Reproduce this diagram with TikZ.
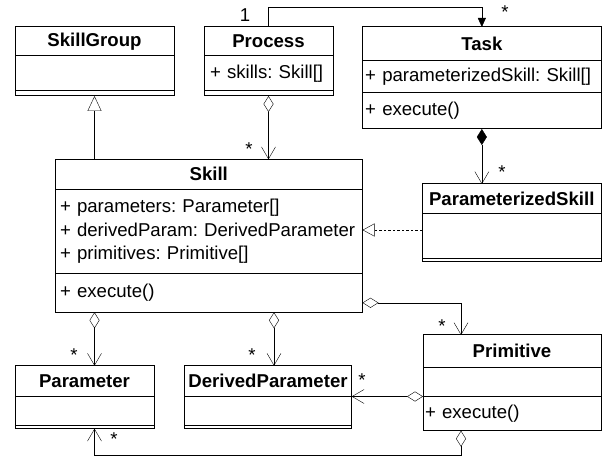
\documentclass[tikz,border=0pt]{standalone}
\usepackage[svgnames]{xcolor}
\usepackage{fontspec}
\setmainfont{Liberation Sans}
\frenchspacing
\hyphenpenalty=10000
\usetikzlibrary{arrows.meta}
\pgfdeclarelayer{lineas_layer}
\pgfsetlayers{lineas_layer,main}
\tikzstyle{cabecera}=[draw=Black,anchor=north west,inner sep=0pt,outer sep=0pt,font=\fontsize{18.6}{23.5}\bfseries\selectfont]
\tikzstyle{seccion}=[draw=Black,anchor=north west,inner sep=0pt,outer sep=0pt,align=left,font=\fontsize{18.6}{23.5}\selectfont]
\tikzstyle{mult}=[inner sep=0pt,font=\fontsize{18.6}{23.5}\selectfont]
\tikzstyle{asociacion}=[draw=Black,-{Triangle[length=9pt,width=8pt]}]
\tikzstyle{agregacion}=[draw=Black,{Diamond[open,length=16pt,width=10pt]}-{Straight Barb[length=12pt,width=14pt]}]
\tikzstyle{composicion}=[draw=Black,{Diamond[length=16pt,width=10pt]}-{Straight Barb[length=12pt,width=14pt]}]
\tikzstyle{herencia}=[draw=Black,-{Triangle[open,length=15pt,width=14pt]}]
\tikzstyle{realiza}=[draw=Black,dash pattern=on 2.5pt off 2pt,-{Triangle[open,length=12pt,width=13pt]}]

\begin{document}
\begin{tikzpicture}[x=1pt,y=-1pt,line width=1pt]
	\useasboundingbox (0,0) rectangle (603,457);
	% clases
	\node [style=cabecera,minimum width=159pt,minimum height=29pt] (skillgroup) at (15,27) {SkillGroup};
	\node [style=seccion,minimum width=159pt,minimum height=34.7pt] (skillgroup_attr) at (skillgroup.south west) {};
	\node [style=seccion,minimum width=159pt,minimum height=5.3pt] (skillgroup_ops) at (skillgroup_attr.south west) {};

	\node [style=cabecera,minimum width=129pt,minimum height=29pt] (process) at (204,27) {Process};
	\node [style=seccion,text width=117pt,inner xsep=6pt,minimum height=34.7pt] (process_attr) at (process.south west) {+ skills: Skill[]};
	\node [style=seccion,minimum width=129pt,minimum height=5.3pt] (process_ops) at (process_attr.south west) {};

	\node [style=cabecera,minimum width=238.3pt,minimum height=34pt] (task) at (362.7,27) {Task};
	\node [style=seccion,text width=233.3pt,inner xsep=2.5pt,minimum height=32pt] (task_attr) at (task.south west) {+ parameterizedSkill: Skill[]};
	\node [style=seccion,text width=233.3pt,inner xsep=2.5pt,minimum height=36pt] (task_ops) at (task_attr.south west) {+ execute()};

	\node [style=cabecera,minimum width=307.5pt,minimum height=30pt] (skill) at (55,159.3) {Skill};
	\node [style=seccion,text width=297.5pt,inner xsep=5pt,minimum height=84pt] (skill_attr) at (skill.south west) {+ parameters: Parameter[]\\+ derivedParam: DerivedParameter\\+ primitives: Primitive[]};
	\node [style=seccion,text width=297.5pt,inner xsep=5pt,minimum height=39pt] (skill_ops) at (skill_attr.south west) {+ execute()};

	\node [style=cabecera,minimum width=179.5pt,minimum height=29.3pt] (pskill) at (422,184) {ParameterizedSkill};
	\node [style=seccion,minimum width=179.5pt,minimum height=45pt] (pskill_attr) at (pskill.south west) {};
	\node [style=seccion,minimum width=179.5pt,minimum height=3.4pt] (pskill_ops) at (pskill_attr.south west) {};

	\node [style=cabecera,minimum width=178pt,minimum height=32.3pt] (primitive) at (423,335) {Primitive};
	\node [style=seccion,minimum width=178pt,minimum height=29.2pt] (primitive_attr) at (primitive.south west) {};
	\node [style=seccion,text width=174pt,inner xsep=2pt,minimum height=34.2pt] (primitive_ops) at (primitive_attr.south west) {+ execute()};

	\node [style=cabecera,minimum width=139pt,minimum height=30.3pt] (parameter) at (15,365.7) {Parameter};
	\node [style=seccion,minimum width=139pt,minimum height=29.3pt] (parameter_attr) at (parameter.south west) {};
	\node [style=seccion,minimum width=139pt,minimum height=3.4pt] (parameter_ops) at (parameter_attr.south west) {};

	\node [style=cabecera,minimum width=167.4pt,minimum height=30.3pt] (derivedparam) at (184.3,365.7) {DerivedParameter};
	\node [style=seccion,minimum width=167.4pt,minimum height=29.3pt] (derivedparam_attr) at (derivedparam.south west) {};
	\node [style=seccion,minimum width=167.4pt,minimum height=3.4pt] (derivedparam_ops) at (derivedparam_attr.south west) {};

	% multiplicidades
	\node [style=mult] (m_process_task1) at (245,15) {1};
	\node [style=mult] (m_process_task2) at (505,12) {*};
	\node [style=mult] (m_process_skill) at (249,149) {*};
	\node [style=mult] (m_task_pskill) at (502,172) {*};
	\node [style=mult] (m_skill_primitive) at (442,326) {*};
	\node [style=mult] (m_skill_parameter) at (74,355) {*};
	\node [style=mult] (m_skill_derived) at (252,355) {*};
	\node [style=mult] (m_primitive_derived) at (362,380) {*};
	\node [style=mult] (m_primitive_parameter) at (114,439) {*};

	\coordinate (pskill_real) at ([yshift=5.8pt]pskill_attr.west);
	\coordinate (skill_agg) at ([yshift=-10pt]skill_ops.east);
	\coordinate (prim_top) at ([xshift=-51pt]primitive.north);
	\coordinate (prim_bot) at ([xshift=-51pt]primitive_ops.south);
	\coordinate (dp_top) at ([xshift=6pt]derivedparam.north);

	\begin{pgfonlayer}{lineas_layer}
		\path [style=asociacion] (process.north) -- ++(0,-20) -| (task.north);
		\path [style=agregacion] (process_ops.south) -- (process_ops.south |- skill.north);
		\path [style=herencia] (skillgroup.south |- skill.north) -- (skillgroup_ops.south);
		\path [style=composicion] (task_ops.south) -- (task_ops.south |- pskill.north);
		\path [style=realiza] (pskill_real) -- (pskill_real -| skill_attr.east);
		\path [style=agregacion] (skill_agg) -| (prim_top);
		\path [style=agregacion] (skillgroup.south |- skill_ops.south) -- (skillgroup.south |- parameter.north);
		\path [style=agregacion] (dp_top |- skill_ops.south) -- (dp_top);
		\path [style=agregacion] (primitive_ops.north west) -- (primitive_ops.north west -| derivedparam.east);
		\path [style=agregacion] (prim_bot) -- ++(0,24.3) -| (skillgroup.south |- parameter_ops.south);
	\end{pgfonlayer}
\end{tikzpicture}
\end{document}
